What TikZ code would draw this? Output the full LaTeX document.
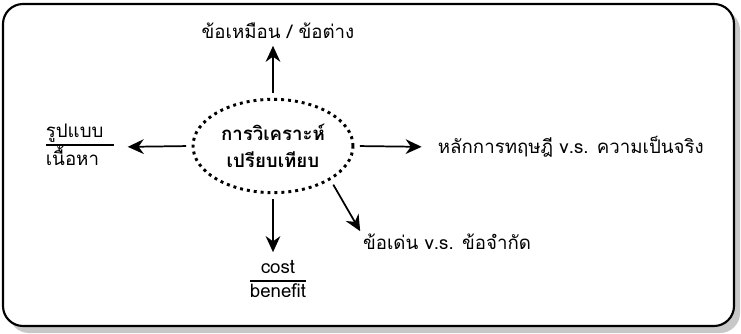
\documentclass[tikz,border=0pt]{standalone}
\usepackage{fontspec}
\setmainfont{Loma}[Script=Thai]
\usetikzlibrary{arrows.meta, positioning, shapes.geometric, calc}
\definecolor{cShadow}{RGB}{200,200,200}
\setlength{\arrayrulewidth}{0.9pt}
\tikzset{
	hub/.style ={ellipse, draw=black, line width=2.2pt, dash pattern=on 2.2pt off 3pt, minimum width=120pt, minimum height=70pt, align=center, font=\fontsize{14}{20}\selectfont\bfseries, inner sep=0pt},
	lbl/.style ={align=center, inner sep=2pt, font=\fontsize{14}{17}\selectfont},
	sig/.style ={-{Stealth[length=12pt, width=11pt]}, line width=1.3pt, shorten <=4pt},
	frame/.style={rounded corners=15pt, line width=1.6pt},
}
\begin{document}
\begin{tikzpicture}[x=0.75pt, y=-0.75pt]
	\useasboundingbox (0,0) rectangle (741,334);
	% frame with shadow
	\fill[cShadow, rounded corners=15pt] (9,10) rectangle (740,333);
	\draw[frame, fill=white] (3,4) rectangle (734,326);
	% centre
	\node[hub] (hub) at (273,146) {การวิเคราะห์\\ เปรียบเทียบ};
	% labels
	\node[lbl] (sim) at (278,31) {ข้อเหมือน / ข้อต่าง};
	\node[lbl] (form) at (80,147) {\begin{tabular}{@{}l@{\hspace{8pt}}}รูปแบบ\\\hline เนื้อหา\end{tabular}};
	\node[lbl, anchor=west] (theo) at (435,147) {หลักการทฤษฎี v.s. ความเป็นจริง};
	\node[lbl] (cost) at (278,281) {\begin{tabular}{@{}c@{}}cost\\\hline benefit\end{tabular}};
	\node[lbl] (pro) at (447,242) {ข้อเด่น v.s. ข้อจำกัด};
	% connectors
	\draw[sig, shorten >=3pt] (hub.north) -- (hub.north |- sim.south);
	\draw[sig, shorten >=8pt] (hub.west) -- (form.east);
	\draw[sig, shorten >=10pt] (hub.east) -- (theo.west);
	\draw[sig, shorten >=2pt] (hub.south) -- (hub.south |- cost.north);
	\draw[sig] (hub.south east) -- (pro.north west);
\end{tikzpicture}
\end{document}
